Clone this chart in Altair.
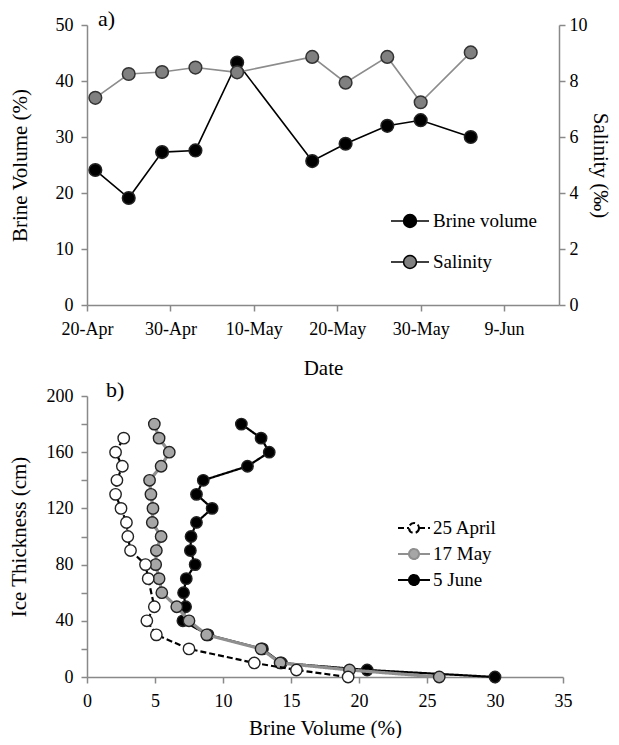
import altair as alt
import pandas as pd

# ---------------- Panel a) : time series ----------------
dates = ["2013-04-21T00:00:00Z", "2013-04-25T00:00:00Z", "2013-04-29T00:00:00Z",
         "2013-05-03T00:00:00Z", "2013-05-08T00:00:00Z", "2013-05-17T00:00:00Z",
         "2013-05-21T00:00:00Z", "2013-05-26T00:00:00Z", "2013-05-30T00:00:00Z",
         "2013-06-05T00:00:00Z"]
brine_volume = [24.1, 19.1, 27.3, 27.6, 43.3, 25.7, 28.8, 32.0, 33.0, 30.0]
salinity = [7.40, 8.25, 8.32, 8.48, 8.31, 8.86, 7.94, 8.86, 7.24, 9.02]
series_a = ["Brine volume", "Salinity"]
left_ticks = [0, 10, 20, 30, 40, 50]
right_ticks = [0, 2, 4, 6, 8, 10]
date_ticks = [(4, 20), (4, 30), (5, 10), (5, 20), (5, 30), (6, 9)]

# ---------------- Panel b) : brine volume profiles ----------------
profiles = ["25 April", "17 May", "5 June"]
depth_25apr = [170, 160, 150, 140, 130, 120, 110, 100, 90, 80, 70, 50, 40, 30, 20, 10, 5, 0]
bv_25apr = [2.7, 2.1, 2.6, 2.2, 2.1, 2.5, 2.9, 3.0, 3.2, 4.3, 4.5, 4.95, 4.4, 5.1, 7.5, 12.3, 15.4, 19.2]
depth_17may = [180, 170, 160, 150, 140, 130, 120, 110, 100, 90, 80, 70, 60, 50, 40, 30, 20, 10, 5, 0]
bv_17may = [4.95, 5.3, 6.05, 5.45, 4.6, 4.7, 4.85, 4.8, 5.45, 5.1, 5.05, 5.3, 5.5, 6.6, 7.5, 8.8, 12.8, 14.2, 19.3, 25.9]
depth_5jun = [180, 170, 160, 150, 140, 130, 120, 110, 100, 90, 80, 70, 60, 50, 40, 30, 20, 10, 5, 0]
bv_5jun = [11.35, 12.8, 13.4, 11.8, 8.55, 8.05, 9.2, 8.05, 7.65, 7.6, 7.95, 7.3, 7.1, 7.25, 7.05, 8.9, 12.9, 14.3, 20.6, 30.0]
bv_ticks = [0, 5, 10, 15, 20, 25, 30, 35]
depth_ticks = list(range(0, 201, 20))

FONT = "Times New Roman, Liberation Serif, DejaVu Serif, serif"
AX = "#898989"

df_brine = pd.DataFrame({"date": dates, "value": brine_volume, "series": series_a[0]})
df_sal = pd.DataFrame({"date": dates, "value": salinity, "series": series_a[1]})

df_b = pd.concat([
    pd.DataFrame({"bv": bv_25apr, "depth": depth_25apr, "profile": profiles[0]}),
    pd.DataFrame({"bv": bv_17may, "depth": depth_17may, "profile": profiles[1]}),
    pd.DataFrame({"bv": bv_5jun, "depth": depth_5jun, "profile": profiles[2]}),
], ignore_index=True)

PATH_A = "M-1,0L-0.34,0M0.34,0L1,0M0.34,0A0.34,0.34,0,1,1,-0.34,0A0.34,0.34,0,1,1,0.34,0Z"
PATH_B = ("M-1.333,0L-0.417,0M0.417,0L1.333,0M0.417,0"
          "A0.417,0.417,0,1,1,-0.417,0A0.417,0.417,0,1,1,0.417,0Z")

x_a = alt.X(
    "date:T",
    scale=alt.Scale(type="utc", domain=[
        alt.DateTime(year=2013, month=4, date=20, utc=True),
        alt.DateTime(year=2013, month=6, date=15, hours=14, utc=True)]),
    axis=alt.Axis(values=[alt.DateTime(year=2013, month=m, date=d, utc=True) for m, d in date_ticks],
                  labelExpr="utcFormat(datum.value, '%-d-%b')", title="Date",
                  titleY=69, titleBaseline="alphabetic"),
)

leg_a = alt.Legend(title=None, orient="none", legendX=303, legendY=176,
                   symbolType=PATH_A, symbolSize=1444, symbolStrokeColor="#000000",
                   symbolStrokeWidth=1.5, labelFont=FONT, labelFontSize=19,
                   labelColor="#000000", labelOffset=3, rowPadding=11)
fill_a = alt.Fill("series:N", scale=alt.Scale(domain=series_a, range=["#000000", "#808080"]),
                  legend=leg_a)

y_left = alt.Y("value:Q", scale=alt.Scale(domain=[0, 50], nice=False),
               axis=alt.Axis(values=left_ticks, title="Brine Volume (%)",
                             titleX=-67, titleY=140, titleBaseline="middle"))
y_right = alt.Y("value:Q", scale=alt.Scale(domain=[0, 10], nice=False),
                axis=alt.Axis(orient="right", values=right_ticks, title="Salinity (‰)",
                              titleX=40, titleY=140, titleAngle=90, titleBaseline="middle",
                              labelPadding=4))

brine_layer = alt.layer(
    alt.Chart(df_brine).mark_line(color="#000000", strokeWidth=1.6).encode(x=x_a, y=y_left),
    alt.Chart(df_brine).mark_point(filled=True, shape="circle", size=160, stroke="#222222",
                                   strokeWidth=1.5, opacity=1).encode(x=x_a, y=y_left, fill=fill_a),
)
sal_layer = alt.layer(
    alt.Chart(df_sal).mark_line(color="#8c8c8c", strokeWidth=1.6).encode(x=x_a, y=y_right),
    alt.Chart(df_sal).mark_point(filled=True, shape="circle", size=160, stroke="#333333",
                                 strokeWidth=1.5, opacity=1).encode(x=x_a, y=y_right, fill=fill_a),
)

top = alt.layer(brine_layer, sal_layer).resolve_scale(y="independent").properties(
    width=472, height=280,
    title=alt.TitleParams("a)", anchor="start", frame="group", dx=11, offset=-32,
                          baseline="alphabetic", fontSize=22, font=FONT,
                          fontWeight="normal", color="#000000"),
)

# bottom
x_b = alt.X("bv:Q", scale=alt.Scale(domain=[0, 35], nice=False),
            axis=alt.Axis(values=bv_ticks, title="Brine Volume (%)", titleY=57,
                          titleBaseline="alphabetic"))
y_b = alt.Y("depth:Q", scale=alt.Scale(domain=[0, 200], nice=False),
            axis=alt.Axis(values=depth_ticks, labelExpr="datum.value % 40 == 0 ? datum.label : ''",
                          title="Ice Thickness (cm)", titleX=-68, titleY=140.5,
                          titleBaseline="middle"))

leg_b = alt.Legend(title=None, orient="none", legendX=314, legendY=119,
                   symbolType=PATH_B, symbolSize=576, symbolStrokeWidth=2,
                   labelFont=FONT, labelFontSize=19, labelColor="#000000",
                   labelOffset=6, rowPadding=3)
stroke_b = alt.Stroke("profile:N", scale=alt.Scale(domain=profiles, range=["#000000", "#8f8f8f", "#000000"]),
                      legend=leg_b)
dash_b = alt.StrokeDash("profile:N", scale=alt.Scale(domain=profiles, range=[[6, 3], [1, 0], [1, 0]]),
                        legend=leg_b)
fill_b = alt.Fill("profile:N", scale=alt.Scale(domain=profiles, range=["#ffffff", "#a6a6a6", "#000000"]),
                  legend=leg_b)

widths = {"25 April": 2.2, "17 May": 3.2, "5 June": 2.2}
layers_b = []
for p in ["5 June", "17 May", "25 April"]:
    base = alt.Chart(df_b).transform_filter(alt.datum.profile == p)
    layers_b.append(base.mark_line(strokeWidth=widths[p]).encode(
        x=x_b, y=y_b, order=alt.Order("depth:Q"), stroke=stroke_b, strokeDash=dash_b))
    layers_b.append(base.mark_point(filled=True, shape="circle", size=130, stroke="#222222",
                                    strokeWidth=1.4, opacity=1).encode(x=x_b, y=y_b, fill=fill_b))

bottom = alt.layer(*layers_b).properties(
    width=476, height=281,
    title=alt.TitleParams("b)", anchor="start", frame="group", dx=19, offset=-32,
                          baseline="alphabetic", fontSize=22, font=FONT,
                          fontWeight="normal", color="#000000"),
)

chart = alt.vconcat(top, bottom, spacing=1).resolve_scale(
    fill="independent", stroke="independent", strokeDash="independent"
).resolve_legend(
    fill="independent", stroke="independent", strokeDash="independent"
).properties(
    padding={"left": 0, "top": 0, "right": 0, "bottom": 0}
).configure_axis(
    domainColor=AX, domainWidth=1.5, tickColor=AX, tickWidth=1.5, tickSize=6,
    labelFont=FONT, labelFontSize=18, labelColor="#000000", labelFlush=False,
    titleFont=FONT, titleFontSize=21, titleFontWeight="normal", titleColor="#000000",
    grid=False,
).configure_axisX(labelPadding=9).configure_axisY(labelPadding=8).configure_view(stroke=None)

chart.save("out.html", embed_options={"renderer": "svg", "actions": False})
